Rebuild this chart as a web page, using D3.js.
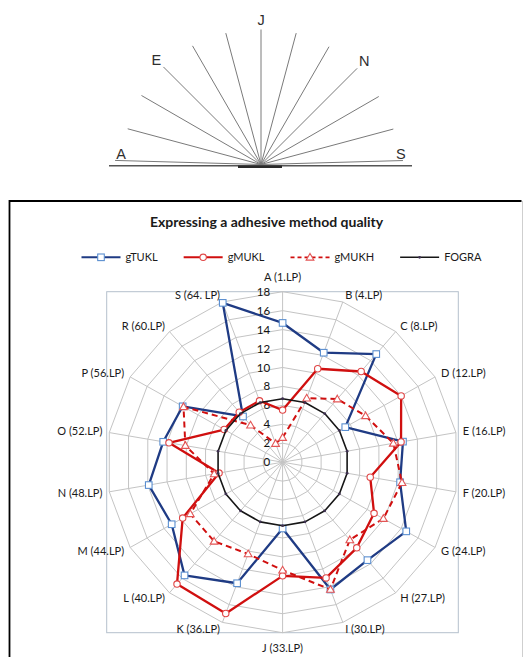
<!DOCTYPE html>
<html>
<head>
<meta charset="utf-8">
<script src="https://cdn.jsdelivr.net/npm/d3@7"></script>
<style>
  html, body { margin: 0; padding: 0; background: #fff; }
  svg { display: block; }
  text { font-family: Lato, "Open Sans", sans-serif; }
</style>
</head>
<body>
<svg id="chart" width="524" height="657"></svg>
<script>
// ---- Data ----------------------------------------------------------------
const categories = ["A (1.LP)", "B (4.LP)", "C (8.LP)", "D (12.LP)", "E (16.LP)", "F (20.LP)",
  "G (24.LP)", "H (27.LP)", "I (30.LP)", "J (33.LP)", "K (36.LP)", "L (40.LP)",
  "M (44.LP)", "N (48.LP)", "O (52.LP)", "P (56.LP)", "R (60.LP)", "S (64. LP)"];

const gTUKL = [14.7, 12.3, 14.9, 7.4, 12.5, 12.2, 14.6, 13.5, 14.3, 7.0, 13.6, 15.6, 13.1, 13.9, 12.4, 11.8, 6.3, 17.9];
const gMUKL = [5.5, 10.5, 12.5, 14.0, 12.3, 9.1, 10.8, 11.8, 13.0, 12.0, 17.0, 16.8, 11.8, 6.6, 11.8, 6.9, 6.9, 6.9];
const gMUKH = [2.6, 7.2, 8.7, 9.8, 11.5, 12.4, 11.9, 10.7, 14.3, 11.4, 10.3, 10.9, 10.9, 7.1, 10.1, 11.7, 5.1, 2.1];
const FOGRA = [6.7, 6.7, 6.7, 6.7, 6.7, 6.7, 6.7, 6.7, 6.7, 6.7, 6.7, 6.7, 6.7, 6.7, 6.7, 6.7, 6.7, 6.7];

const radialTicks = [0, 2, 4, 6, 8, 10, 12, 14, 16, 18];
const seriesNames = ["gTUKL", "gMUKL", "gMUKH", "FOGRA"];

// Fan of directions shown above the chart (angles in degrees from the right horizontal)
const fanAngles  = [178.4, 165, 150, 135, 120, 105, 90, 75, 60, 45, 30, 15, 1.6];
const fanLengths = [146, 138, 138, 138, 137, 136, 135, 136, 136, 136, 136, 137, 142];
const fanLabels  = ["A", "", "", "E", "", "", "J", "", "", "N", "", "", "S"];

const chartTitle = "Expressing a adhesive method quality";

// ---- Setup ---------------------------------------------------------------
const svg = d3.select("#chart");

// ---- Fan diagram ---------------------------------------------------------
const fan = svg.append("g");
const fx = 261, fy = 164.5;
const fanDeg = d3.scaleLinear().domain([0, 180]).range([0, Math.PI]);

fan.append("line")
  .attr("x1", 109).attr("x2", 412).attr("y1", 165.8).attr("y2", 165.8)
  .attr("stroke", "#555").attr("stroke-width", 1.6);
fan.append("line")
  .attr("x1", 238).attr("x2", 282).attr("y1", 166.8).attr("y2", 166.8)
  .attr("stroke", "#2a2a2a").attr("stroke-width", 2.6);

fan.selectAll("line.ray")
  .data(fanAngles)
  .join("line")
  .attr("class", "ray")
  .attr("x1", fx).attr("y1", fy)
  .attr("x2", (d, i) => fx + fanLengths[i] * Math.cos(fanDeg(d)))
  .attr("y2", (d, i) => fy - fanLengths[i] * Math.sin(fanDeg(d)))
  .attr("stroke", "#7a7a7a").attr("stroke-width", 1);

fan.selectAll("text.dir")
  .data(fanAngles.map((a, i) => ({ a, len: fanLengths[i], t: fanLabels[i] })).filter(d => d.t))
  .join("text")
  .attr("class", "dir")
  .attr("x", d => {
    const ex = fx + d.len * Math.cos(fanDeg(d.a));
    if (d.a > 170) return ex + 6;
    if (d.a < 10) return ex - 2;
    return fx + (d.len + 10) * Math.cos(fanDeg(d.a));
  })
  .attr("y", d => {
    const ey = fy - d.len * Math.sin(fanDeg(d.a));
    if (d.a > 170 || d.a < 10) return ey - 1.5;
    return fy - (d.len + 10) * Math.sin(fanDeg(d.a)) + 5;
  })
  .attr("text-anchor", "middle")
  .style("font-family", "'Liberation Sans', Arial, sans-serif")
  .style("font-size", "14.5px")
  .attr("fill", "#2e2e2e")
  .text(d => d.t);

// ---- Chart frame ---------------------------------------------------------
svg.append("path")
  .attr("d", "M9.5,657 V201 H521.5")
  .attr("fill", "none").attr("stroke", "#000").attr("stroke-width", 1.8);
svg.append("line")
  .attr("x1", 522.5).attr("x2", 522.5).attr("y1", 201).attr("y2", 657)
  .attr("stroke", "#cfcfcf").attr("stroke-width", 1);

// Title
svg.append("text")
  .attr("x", 266.5).attr("y", 226.5)
  .attr("text-anchor", "middle")
  .style("font-size", "14px").style("font-weight", "700")
  .attr("fill", "#1a1a1a")
  .text(chartTitle);

// ---- Radar ---------------------------------------------------------------
const cx = 282.6, cy = 462.2;
const maxV = d3.max(radialTicks);
const rX = d3.scaleLinear().domain([0, maxV]).range([0, 176]);
const rY = d3.scaleLinear().domain([0, maxV]).range([0, 170.5]);
const angle = d3.scaleLinear().domain([0, categories.length]).range([0, 2 * Math.PI]);

const px = (v, i) => cx + rX(v) * Math.sin(angle(i));
const py = (v, i) => cy - rY(v) * Math.cos(angle(i));

// Plot area border
svg.append("rect")
  .attr("x", 106.7).attr("y", cy - rY(maxV))
  .attr("width", 351.6).attr("height", rY(maxV) * 2)
  .attr("fill", "none").attr("stroke", "#b5c0cc").attr("stroke-width", 1);

const grid = svg.append("g");
const ringLine = d3.line().x(d => d[0]).y(d => d[1]).curve(d3.curveLinearClosed);

grid.selectAll("path.ring")
  .data(radialTicks.filter(t => t > 0))
  .join("path")
  .attr("class", "ring")
  .attr("d", t => ringLine(categories.map((c, i) => [px(t, i), py(t, i)])))
  .attr("fill", "none").attr("stroke", "#c4c4c4").attr("stroke-width", 1);

grid.selectAll("line.spoke")
  .data(categories)
  .join("line")
  .attr("class", "spoke")
  .attr("x1", cx).attr("y1", cy)
  .attr("x2", (c, i) => px(maxV, i)).attr("y2", (c, i) => py(maxV, i))
  .attr("stroke", "#c4c4c4").attr("stroke-width", 1);

// Category labels
svg.selectAll("text.cat")
  .data(categories)
  .join("text")
  .attr("class", "cat")
  .each(function (c, i) {
    const s = Math.sin(angle(i)), k = Math.cos(angle(i));
    const mid = Math.abs(s) < 0.1;
    const off = 7 + (mid ? 8 : 0);
    d3.select(this)
      .attr("x", px(maxV, i) + off * s)
      .attr("y", py(maxV, i) - off * k)
      .attr("dy", "0.35em")
      .attr("text-anchor", mid ? "middle" : (s > 0 ? "start" : "end"));
  })
  .style("font-size", "11px")
  .attr("fill", "#1a1a1a")
  .text(c => c);

// Value axis labels along the first spoke
svg.selectAll("text.tick")
  .data(radialTicks)
  .join("text")
  .attr("class", "tick")
  .attr("x", cx - 12.5)
  .attr("y", t => cy - rY(t))
  .attr("dy", "0.35em")
  .attr("text-anchor", "end")
  .style("font-size", "11.5px")
  .attr("fill", "#111")
  .text(t => t);

// Series
const polyline = d3.line().x(d => d.x).y(d => d.y).curve(d3.curveLinearClosed);
const pts = vals => vals.map((v, i) => ({ x: px(v, i), y: py(v, i) }));

const styles = {
  gTUKL: { data: gTUKL, color: "#1f3b84", width: 2.3, dash: null, marker: "square", mstroke: "#5b8fd0" },
  gMUKL: { data: gMUKL, color: "#d00f0f", width: 2.3, dash: null, marker: "circle", mstroke: "#e04545" },
  gMUKH: { data: gMUKH, color: "#d00f0f", width: 2, dash: "6,4", marker: "triangle", mstroke: "#e35555" },
  FOGRA: { data: FOGRA, color: "#161616", width: 1.6, dash: null, marker: "dot", mstroke: "#3f3151" }
};

function drawMarker(sel, type, stroke, x, y) {
  if (type === "square") {
    sel.append("rect").attr("x", x - 3.3).attr("y", y - 3.3).attr("width", 6.6).attr("height", 6.6)
      .attr("fill", "#fff").attr("stroke", stroke).attr("stroke-width", 1.1);
  } else if (type === "circle") {
    sel.append("circle").attr("cx", x).attr("cy", y).attr("r", 3.2)
      .attr("fill", "#fff").attr("stroke", stroke).attr("stroke-width", 1.1);
  } else if (type === "triangle") {
    sel.append("path").attr("d", d3.symbol(d3.symbolTriangle, 26)())
      .attr("transform", `translate(${x},${y + 0.6})`)
      .attr("fill", "#fff").attr("stroke", stroke).attr("stroke-width", 1.1);
  } else {
    sel.append("circle").attr("cx", x).attr("cy", y).attr("r", 1.4)
      .attr("fill", stroke).attr("stroke", "none");
  }
}

seriesNames.forEach(name => {
  const st = styles[name];
  const g = svg.append("g");
  const p = pts(st.data);
  g.append("path")
    .attr("d", polyline(p))
    .attr("fill", "none")
    .attr("stroke", st.color)
    .attr("stroke-width", st.width)
    .attr("stroke-linejoin", "round")
    .attr("stroke-dasharray", st.dash);
  p.forEach(d => drawMarker(g, st.marker, st.mstroke, d.x, d.y));
});

// ---- Legend --------------------------------------------------------------
const legend = svg.append("g");
let lxPos = 81.5;
const ly = 257.3;
seriesNames.forEach(name => {
  const st = styles[name];
  const item = legend.append("g");
  item.append("line")
    .attr("x1", lxPos).attr("x2", lxPos + 39).attr("y1", ly).attr("y2", ly)
    .attr("stroke", st.color).attr("stroke-width", st.width * 0.9)
    .attr("stroke-dasharray", st.dash ? "4,3" : null);
  drawMarker(item, st.marker, st.mstroke, lxPos + 19.5, ly);
  const t = item.append("text")
    .attr("x", lxPos + 44).attr("y", ly).attr("dy", "0.35em")
    .style("font-size", "11px").attr("fill", "#1a1a1a")
    .text(name);
  lxPos += 44 + t.node().getComputedTextLength() + 26;
});
</script>
</body>
</html>
